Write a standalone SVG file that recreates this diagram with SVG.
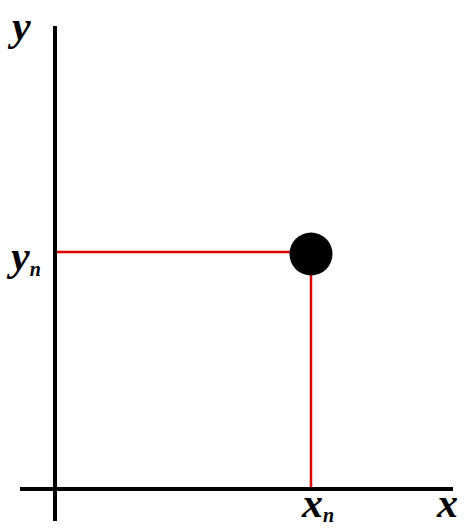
<svg xmlns="http://www.w3.org/2000/svg" width="470" height="529" viewBox="0 0 470 529">
<style>
.lbl{font-family:"Liberation Serif","Times New Roman",serif;font-weight:bold;font-style:italic;fill:#000}
.big{font-size:42px}
.sub{font-size:20px}
.axis{stroke:#000;stroke-width:4;fill:none}
.guide{stroke:#e00000;stroke-width:2.5;fill:none}
</style>
<rect width="470" height="529" fill="#fff"/>
<g id="connectors">
<line class="axis" x1="55" y1="26" x2="55" y2="521"/>
<line class="axis" x1="20" y1="489" x2="453" y2="489"/>
<line class="guide" x1="57" y1="252" x2="300" y2="252"/>
<line class="guide" x1="311" y1="265" x2="311" y2="487"/>
</g>
<g id="point"><circle cx="311" cy="254" r="21.5" fill="#000"/></g>
<g id="label-y"><text class="lbl big" x="12" y="40">y</text></g>
<g id="label-yn"><text class="lbl big" x="11" y="270">y<tspan class="sub" dy="6">n</tspan></text></g>
<g id="label-xn"><text class="lbl big" x="302" y="517">x<tspan class="sub" dy="5">n</tspan></text></g>
<g id="label-x"><text class="lbl big" x="437" y="517">x</text></g>
</svg>
